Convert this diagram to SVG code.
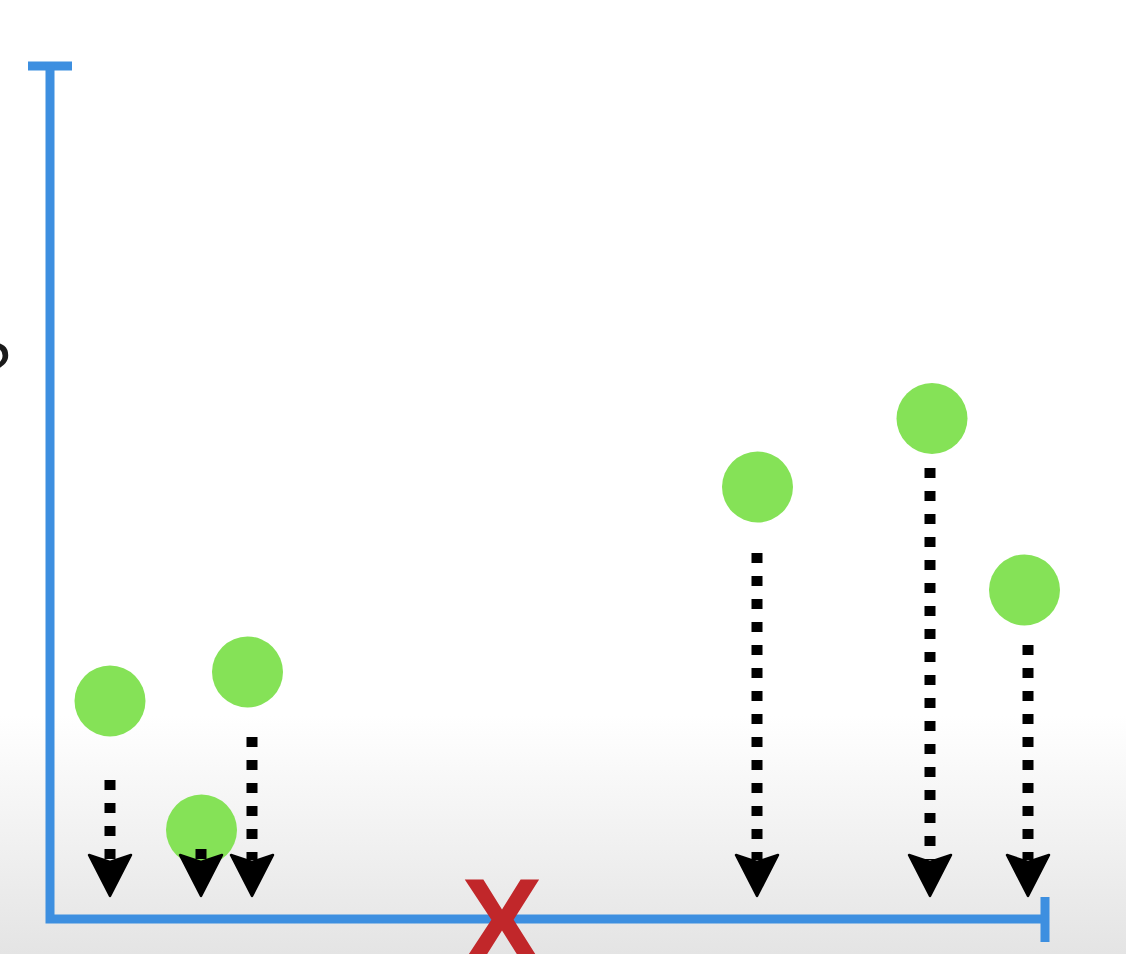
<svg xmlns="http://www.w3.org/2000/svg" width="1126" height="954" viewBox="0 0 1126 954">
  <defs>
    <linearGradient id="bg" x1="0" y1="0" x2="0" y2="954" gradientUnits="userSpaceOnUse">
      <stop offset="0" stop-color="#ffffff"/>
      <stop offset="0.75" stop-color="#ffffff"/>
      <stop offset="1" stop-color="#e4e4e4"/>
    </linearGradient>
    <path id="head" d="M -21 0 L 0 7 L 21 0 L 0 41 Z"/>
    <style>
      .axis { fill: none; stroke: #3d8fe0; stroke-width: 9; }
      .pt { fill: #85e257; }
      .dots { stroke: #000000; stroke-width: 11; stroke-dasharray: 10 13; fill: none; }
      .hd { fill: #000000; stroke: #000000; stroke-width: 2.5; stroke-linejoin: round; }
      .lbl { font-family: "Liberation Sans", Arial, sans-serif; }
    </style>
  </defs>

  <rect x="0" y="0" width="1126" height="954" fill="url(#bg)"/>

  <text class="lbl" x="-25" y="388" font-size="64" fill="#1a1a1a">?</text>

  <g id="axes">
    <line class="axis" x1="28" y1="66" x2="72" y2="66"/>
    <polyline class="axis" points="50,62 50,919 1045,919"/>
    <line class="axis" x1="1045" y1="897" x2="1045" y2="942"/>
  </g>

  <g id="point1"><circle class="pt" cx="110" cy="701" r="35.5"/></g>
  <g id="point2"><circle class="pt" cx="247.5" cy="672" r="35.5"/></g>
  <g id="point3"><circle class="pt" cx="201.5" cy="830" r="35.5"/></g>
  <g id="point4"><circle class="pt" cx="757.5" cy="487" r="35.5"/></g>
  <g id="point5"><circle class="pt" cx="932" cy="418.5" r="35.5"/></g>
  <g id="point6"><circle class="pt" cx="1024.5" cy="590" r="35.5"/></g>

  <g id="connectors">
    <line class="dots" x1="110" y1="780" x2="110" y2="860"/>
    <use href="#head" class="hd" x="110" y="855"/>
    <line class="dots" x1="201" y1="849" x2="201" y2="860"/>
    <use href="#head" class="hd" x="201" y="855"/>
    <line class="dots" x1="252" y1="737" x2="252" y2="860"/>
    <use href="#head" class="hd" x="252" y="855"/>
    <line class="dots" x1="757" y1="553" x2="757" y2="860"/>
    <use href="#head" class="hd" x="757" y="855"/>
    <line class="dots" x1="930" y1="468" x2="930" y2="860"/>
    <use href="#head" class="hd" x="930" y="855"/>
    <line class="dots" x1="1028" y1="645" x2="1028" y2="860"/>
    <use href="#head" class="hd" x="1028" y="855"/>
  </g>

  <text id="xlabel" class="lbl" x="502" y="964" font-size="122" font-weight="bold" fill="#c1272a" text-anchor="middle">X</text>
</svg>
